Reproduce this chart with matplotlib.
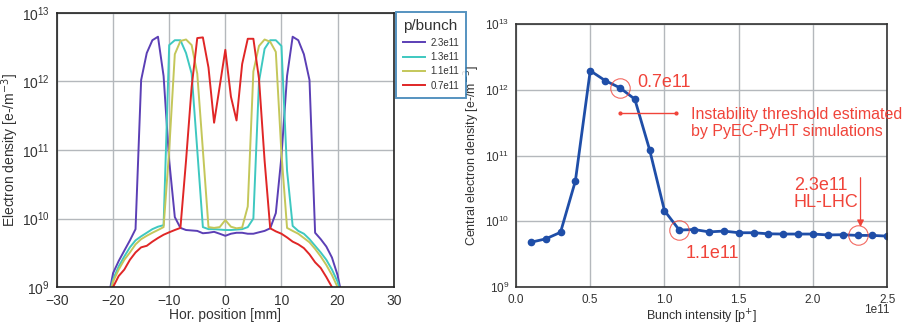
import matplotlib.pyplot as plt
import numpy as np

plt.rcParams['font.family'] = ['Liberation Sans', 'DejaVu Sans']

# left panel: transverse electron density profiles
pos_mm = list(range(-21, 22))

dens_23 = [6e8, 1.6e9, 2.4e9, 3.4e9, 4.8e9, 7.0e9, 1.05e12, 2.6e12, 4.0e12, 4.5e12,
           1.2e12, 7e10, 1.05e10, 7.3e9, 6.8e9, 6.7e9, 6.6e9, 6.1e9, 6.2e9, 6.4e9,
           6.0e9, 5.6e9, 6.0e9, 6.2e9, 6.2e9, 6.0e9, 6.0e9, 6.3e9, 6.6e9, 7.2e9,
           1.2e10, 8e10, 1.2e12, 4.5e12, 4.0e12, 2.5e12, 1.05e12, 6.2e9, 5.0e9, 3.9e9,
           2.7e9, 1.5e9, 6e8]
dens_13 = [6e8, 1.3e9, 2.0e9, 2.8e9, 3.8e9, 4.8e9, 5.5e9, 6.2e9, 7.0e9, 7.6e9,
           8.0e9, 3.4e12, 4.0e12, 4.0e12, 2.6e12, 1.3e12, 1.0e11, 7.5e9, 7.0e9, 7.0e9,
           6.9e9, 6.8e9, 6.8e9, 6.9e9, 7.0e9, 7.5e9, 1.0e10, 1.0e12, 3.0e12, 4.0e12,
           4.0e12, 3.3e12, 5e10, 7.8e9, 6.6e9, 6.0e9, 5.0e9, 4.0e9, 3.2e9, 2.5e9,
           1.8e9, 1.2e9, 6e8]
dens_11 = [6e8, 1.2e9, 1.8e9, 2.5e9, 3.2e9, 4.2e9, 5.0e9, 5.6e9, 6.2e9, 6.8e9,
           7.5e9, 1.0e11, 2.5e12, 3.9e12, 4.1e12, 3.4e12, 1.3e12, 1.0e11, 7.5e9, 7.3e9,
           7.5e9, 9.5e9, 7.6e9, 7.2e9, 7.4e9, 1.5e10, 1.4e12, 3.3e12, 4.1e12, 3.8e12,
           2.7e12, 9e10, 7.3e9, 6.6e9, 6.0e9, 5.2e9, 4.5e9, 3.6e9, 2.8e9, 2.1e9,
           1.5e9, 1.0e9, 6e8]
dens_07 = [6e8, 1.0e9, 1.45e9, 1.8e9, 2.5e9, 3.2e9, 3.8e9, 4.0e9, 4.6e9, 5.2e9,
           5.8e9, 6.3e9, 6.8e9, 7.3e9, 7e10, 8.3e11, 4.3e12, 4.4e12, 1.6e12, 2.5e11,
           8.5e11, 2.9e12, 6e11, 2.7e11, 1.8e12, 4.2e12, 4.2e12, 1.1e12, 7e10, 7.2e9,
           6.5e9, 6.0e9, 5.3e9, 4.6e9, 4.2e9, 3.7e9, 3.0e9, 2.3e9, 1.9e9, 1.4e9,
           1.0e9, 7e8, 5e8]

bunch_labels = ['2.3e11', '1.3e11', '1.1e11', '0.7e11']
line_colors = ['#5b3fb5', '#3ec8c0', '#c4c75a', '#e02626']

# right panel: central density vs bunch intensity
intensity = [0.1, 0.2, 0.3, 0.4, 0.5, 0.6, 0.7, 0.8, 0.9, 1.0, 1.1, 1.2, 1.3,
             1.4, 1.5, 1.6, 1.7, 1.8, 1.9, 2.0, 2.1, 2.2, 2.3, 2.4, 2.5]
central_dens = [4.8e9, 5.4e9, 6.8e9, 4.1e10, 1.95e12, 1.38e12, 1.07e12, 7.2e11, 1.22e11,
                1.45e10, 7.35e9, 7.5e9, 6.9e9, 7.1e9, 6.7e9, 6.7e9, 6.45e9, 6.4e9,
                6.4e9, 6.4e9, 6.2e9, 6.25e9, 6.1e9, 6.1e9, 5.95e9]

fig = plt.figure(figsize=(9.1, 3.24), dpi=100)
ax1 = fig.add_axes([0.0626, 0.114, 0.370, 0.846])
ax2 = fig.add_axes([0.567, 0.114, 0.408, 0.812])

grid_kw = dict(color='#b4b8bc', linewidth=1.0)
red = '#f0443a'
txt = '#333333'

for dens, lab, col in zip([dens_23, dens_13, dens_11, dens_07], bunch_labels, line_colors):
    ax1.plot(pos_mm, dens, color=col, lw=1.4, label=lab)

ax1.set_yscale('log')
ax1.set_xlim(-30, 30)
ax1.set_ylim(1e9, 1e13)
ax1.set_xticks(np.arange(-30, 31, 10))
ax1.set_xlabel('Hor. position [mm]', fontsize=10, color=txt, labelpad=0)
ax1.set_ylabel('Electron density [e-/m$^{-3}$]', fontsize=10, color=txt)
ax1.yaxis.set_label_coords(-0.107, 0.5)
ax1.tick_params(length=0, labelsize=10, labelcolor=txt, pad=5)
ax1.minorticks_off()
ax1.grid(True, **grid_kw)
ax1.set_axisbelow(True)
for sp in ax1.spines.values():
    sp.set_color('#222222')
    sp.set_linewidth(1.2)

leg = fig.legend(loc='upper left', bbox_to_anchor=(0.435, 0.963), title='p/bunch',
                 fontsize=7, title_fontsize=11, frameon=True, fancybox=False,
                 handlelength=2.2, handletextpad=0.6, borderpad=0.75,
                 labelspacing=0.45, borderaxespad=0)
leg._legend_box.align = 'left'
leg.get_frame().set_edgecolor('#2a78b0')
leg.get_frame().set_linewidth(1.4)
leg.get_title().set_color(txt)
for t in leg.get_texts():
    t.set_color(txt)

ax2.plot(intensity, central_dens, color='#1f4ea8', lw=2, marker='o', ms=4.5)
ax2.set_yscale('log')
ax2.set_xlim(0, 2.5)
ax2.set_ylim(1e9, 1e13)
ax2.set_xticks(np.arange(0, 2.51, 0.5))
ax2.set_xticklabels([f'{v:.1f}' for v in np.arange(0, 2.51, 0.5)])
ax2.set_xlabel('Bunch intensity [p$^{+}$]', fontsize=9, color=txt, labelpad=1)
ax2.set_ylabel('Central electron density [e-/m$^{-3}$]', fontsize=9, color=txt)
ax2.yaxis.set_label_coords(-0.092, 0.5)
ax2.tick_params(length=0, labelsize=8.5, labelcolor=txt, pad=5)
ax2.minorticks_off()
ax2.grid(True, **grid_kw)
ax2.set_axisbelow(True)
for sp in ax2.spines.values():
    sp.set_color(txt)
    sp.set_linewidth(1.2)
ax2.text(0.973, -0.088, '1e11', transform=ax2.transAxes, ha='center', va='center',
         fontsize=8.5, color=txt)

# highlighted points
for xi in [0.7, 1.1, 2.3]:
    yi = central_dens[intensity.index(xi)]
    ax2.plot(xi, yi, marker='o', ms=14, mfc='none', mec=red, mew=0.8, alpha=0.8)

ax2.text(0.82, 1.3e12, '0.7e11', color=red, fontsize=13, va='center')
ax2.text(1.14, 3.2e9, '1.1e11', color=red, fontsize=13, va='center')
ax2.text(1.87, 2.6e10, '2.3e11\nHL-LHC', color=red, fontsize=13, va='center',
         linespacing=1.05)
ax2.text(1.18, 3.1e11, 'Instability threshold estimated\nby PyEC-PyHT simulations',
         color=red, fontsize=11.5, va='center', linespacing=1.2, clip_on=False)
ax2.plot([0.70, 1.08], [4.4e11, 4.4e11], color=red, lw=1, marker='o', ms=2)
ax2.annotate('', xy=(2.32, 8.2e9), xytext=(2.32, 4.6e10),
             arrowprops=dict(arrowstyle='-|>', color=red, lw=0.9, mutation_scale=10,
                             shrinkA=0, shrinkB=0))

fig.savefig('out.png', dpi=100)
